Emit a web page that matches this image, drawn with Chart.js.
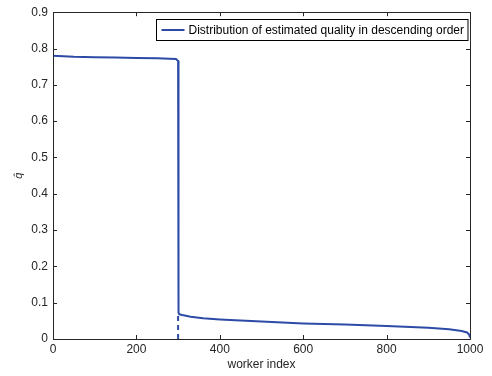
<!DOCTYPE html>
<html>
<head>
<meta charset="utf-8">
<script src="https://cdn.jsdelivr.net/npm/chart.js@4/dist/chart.umd.min.js"></script>
<style>
  html, body { margin: 0; padding: 0; background: #fff; }
  #wrap { width: 492px; height: 376px; }
</style>
</head>
<body>
<div id="wrap"><canvas id="c" width="492" height="376"></canvas></div>
<script>
const workerIndex = [0, 50, 100, 150, 200, 250, 280, 295, 298, 300,
    301, 303, 310, 330, 360, 400, 500, 600, 700, 800, 900, 950, 980, 993, 998, 1000];
const quality = [0.780, 0.777, 0.776, 0.775, 0.774, 0.773, 0.772, 0.771, 0.768, 0.766,
    0.072, 0.068, 0.066, 0.061, 0.057, 0.054, 0.048, 0.043, 0.040, 0.036, 0.031, 0.027, 0.022, 0.018, 0.012, 0.004];
const markerX = [300, 300];
const markerY = [0, 0.07];
const xTicks = [0, 200, 400, 600, 800, 1000];
const yTicks = [0, 0.1, 0.2, 0.3, 0.4, 0.5, 0.6, 0.7, 0.8, 0.9];
const legendLabel = 'Distribution of estimated quality in descending order';

const LINE = '#2d4ba6';
const FONT = 'Liberation Sans, Arial, Helvetica, sans-serif';

// MATLAB-ish box with inward ticks on all four sides, plus the legend
const matlabBox = {
    id: 'matlabBox',
    afterDatasetsDraw(chart) {
        const { ctx, chartArea: a, scales: { x, y } } = chart;
        ctx.save();
        ctx.strokeStyle = '#262626';
        ctx.lineWidth = 1;
        ctx.beginPath();
        xTicks.forEach((v) => {
            const px = Math.round(x.getPixelForValue(v)) + 0.5;
            ctx.moveTo(px, a.bottom); ctx.lineTo(px, a.bottom - 4);
            ctx.moveTo(px, a.top); ctx.lineTo(px, a.top + 4);
        });
        yTicks.forEach((v) => {
            const py = Math.round(y.getPixelForValue(v)) + 0.5;
            ctx.moveTo(a.left, py); ctx.lineTo(a.left + 4, py);
            ctx.moveTo(a.right, py); ctx.lineTo(a.right - 4, py);
        });
        ctx.stroke();
        ctx.strokeRect(Math.round(a.left) + 0.5, Math.round(a.top) + 0.5,
            Math.round(a.right - a.left), Math.round(a.bottom - a.top));

        // legend
        ctx.font = '12px ' + FONT;
        const tw = ctx.measureText(legendLabel).width;
        const bw = tw + 36, bh = 21;
        const bx = Math.round(a.right - 3 - bw) + 0.5, by = Math.round(a.top + 7) + 0.5;
        ctx.fillStyle = '#fff';
        ctx.fillRect(bx, by, bw, bh);
        ctx.strokeStyle = '#000';
        ctx.strokeRect(bx, by, bw, bh);
        ctx.strokeStyle = LINE;
        ctx.lineWidth = 2;
        ctx.beginPath();
        ctx.moveTo(bx + 5, by + bh / 2); ctx.lineTo(bx + 28, by + bh / 2);
        ctx.stroke();
        ctx.fillStyle = '#000';
        ctx.textBaseline = 'middle';
        ctx.fillText(legendLabel, bx + 32, by + bh / 2 + 1);
        ctx.restore();
    },
};

new Chart(document.getElementById('c'), {
    type: 'line',
    data: {
        datasets: [
            {
                data: workerIndex.map((v, i) => ({ x: v, y: quality[i] })),
                borderColor: LINE, borderWidth: 2, pointRadius: 0, tension: 0,
            },
            {
                data: markerX.map((v, i) => ({ x: v, y: markerY[i] })),
                borderColor: LINE, borderWidth: 2, borderDash: [5, 4], pointRadius: 0,
            },
        ],
    },
    options: {
        responsive: false,
        animation: false,
        layout: { padding: { left: 0, right: 22, top: 10, bottom: 0 } },
        plugins: { legend: { display: false }, tooltip: { enabled: false } },
        scales: {
            x: {
                type: 'linear', min: 0, max: 1000,
                afterBuildTicks: (s) => { s.ticks = xTicks.map((v) => ({ value: v })); },
                afterFit: (s) => { s.height = 37; },
                grid: { display: false, drawTicks: false },
                border: { display: false },
                ticks: { color: '#262626', font: { family: FONT, size: 12 }, padding: 3, maxRotation: 0, callback: (v) => String(v) },
                title: { display: true, text: 'worker index', color: '#262626', font: { family: FONT, size: 12 }, padding: { top: 0 } },
            },
            y: {
                min: 0, max: 0.9,
                afterBuildTicks: (s) => { s.ticks = yTicks.map((v) => ({ value: v })); },
                afterFit: (s) => { s.width = 53; },
                grid: { display: false, drawTicks: false },
                border: { display: false },
                ticks: { color: '#262626', font: { family: FONT, size: 12 }, padding: 5, callback: (v) => String(+v.toFixed(1)) },
                title: { display: true, text: 'q̂', color: '#262626', font: { family: FONT, size: 11, style: 'italic' }, padding: { top: 12, bottom: 0 } },
            },
        },
    },
    plugins: [matlabBox],
});
</script>
</body>
</html>
